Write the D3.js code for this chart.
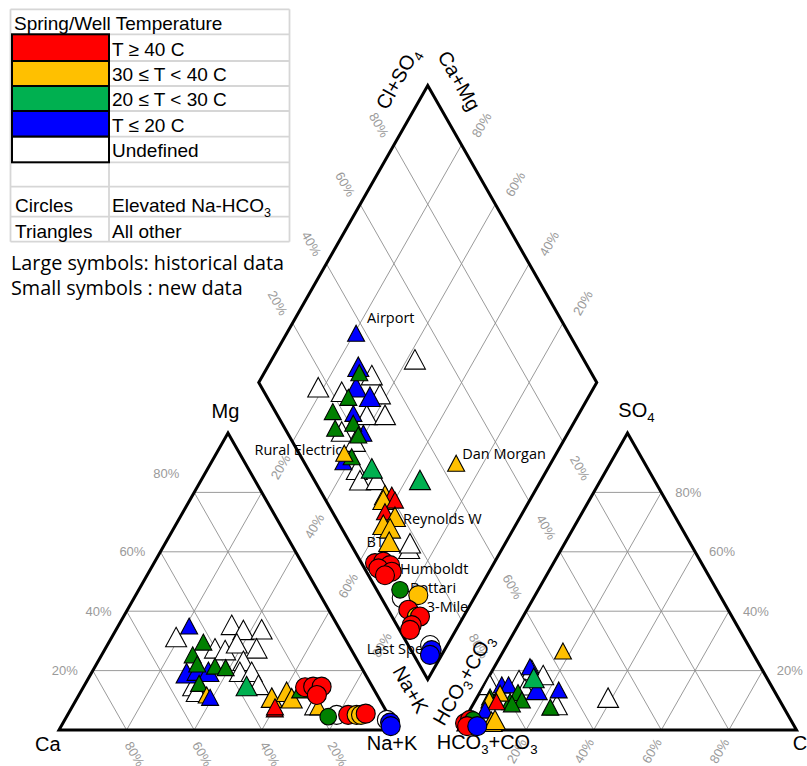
<!DOCTYPE html>
<html>
<head>
<meta charset="utf-8">
<script src="https://cdn.jsdelivr.net/npm/d3@7"></script>
<style>
  body { margin: 0; background: #fff; }
  svg { display: block; }
</style>
</head>
<body>
<svg id="chart" width="807" height="766"></svg>
<script>
// ---------------- data ----------------
const tempKeys   = ["r", "o", "g", "b", "w"];
const tempLabels = ["T \u2265 40 C", "30 \u2264 T < 40 C", "20 \u2264 T < 30 C", "T \u2264 20 C", "Undefined"];
const gridPct    = [20, 40, 60, 80];

// symbol kind: T = historical triangle, t = new triangle, C = historical circle, c = new circle
// cation triangle rows: [Mg %, Na+K %, temperature class, kind]
const cationData = [
  [31.3, 19.0, "w", "T"], [35.4, 33.4, "w", "T"], [33.7, 37.7, "w", "T"], [33.9, 43.0, "w", "T"],
  [27.5, 32.4, "w", "T"], [26.9, 35.7, "w", "T"], [29.2, 38.0, "w", "T"], [27.5, 44.7, "w", "T"],
  [23.3, 42.9, "w", "T"], [19.6, 43.7, "w", "T"], [19.6, 47.2, "w", "T"], [14.8, 32.3, "w", "T"],
  [12.9, 34.3, "w", "T"], [15.2, 51.4, "w", "T"],
  [19.1, 28.2, "b", "T"], [20.0, 31.0, "b", "T"], [19.6, 34.4, "b", "T"], [35.0, 21.0, "b", "t"],
  [29.6, 27.9, "g", "t"], [25.3, 26.9, "g", "t"], [22.2, 29.8, "g", "t"], [21.5, 35.4, "g", "t"],
  [21.0, 38.8, "g", "t"], [15.7, 33.6, "g", "t"], [14.8, 48.1, "g", "T"],
  [11.8, 37.8, "o", "t"], [11.0, 39.2, "b", "t"],
  [10.9, 57.5, "o", "T"], [12.9, 60.9, "o", "T"], [10.7, 63.5, "o", "T"],
  [7.1, 60.3, "r", "t"], [7.8, 60.0, "r", "t"], [13.5, 64.6, "g", "t"],
  [7.8, 71.3, "w", "t"], [7.8, 72.8, "o", "t"],
  [14.4, 65.6, "r", "C"], [14.6, 67.9, "r", "C"], [14.6, 70.4, "r", "C"], [11.8, 70.4, "r", "C"],
  [5.1, 79.6, "w", "C"], [4.5, 77.4, "g", "c"], [5.1, 83.0, "r", "C"], [5.1, 85.5, "o", "C"],
  [5.1, 86.8, "o", "C"], [5.5, 88.0, "r", "C"],
  [3.4, 95.3, "w", "C"], [2.5, 96.7, "b", "C"], [1.3, 97.5, "b", "C"]
];

// anion triangle rows: [SO4 %, Cl %, temperature class, kind]
const anionData = [
  [10.9, 38.8, "w", "T"], [20.2, 11.6, "w", "T"], [18.5, 15.8, "w", "T"], [16.8, 9.5, "w", "T"],
  [15.2, 1.7, "w", "T"], [14.5, 12.4, "w", "t"], [8.4, 24.9, "w", "T"],
  [21.3, 10.5, "b", "t"], [13.5, 22.9, "b", "t"], [13.5, 16.4, "b", "T"],
  [17.5, 13.5, "g", "T"], [15.2, 5.2, "b", "t"], [15.2, 7.2, "b", "t"],
  [12.6, 11.3, "g", "t"], [10.1, 13.7, "g", "t"], [9.5, 10.5, "g", "t"], [8.8, 11.4, "g", "t"],
  [7.7, 23.3, "g", "t"], [11.1, 3.8, "g", "t"],
  [26.6, 17.6, "o", "t"], [12.4, 6.1, "o", "t"], [10.1, 4.1, "o", "t"], [9.5, 6.5, "r", "t"],
  [6.7, 4.5, "b", "t"], [2.8, 8.4, "o", "T"], [3.4, 9.1, "o", "T"],
  [2.3, 0.8, "r", "C"], [3.4, 1.7, "r", "C"], [3.4, 2.6, "g", "c"], [1.3, 1.9, "r", "C"], [1.3, 4.9, "b", "C"]
];

// diamond rows: [Na+K %, Cl+SO4 %, temperature class, kind]
const diamondData = [
  [42.3, 50.1, "w", "T"], [18.4, 16.8, "w", "T"], [32.2, 34.7, "w", "T"], [26.1, 23.0, "w", "T"],
  [37.8, 33.9, "w", "T"], [37.4, 26.5, "w", "T"], [42.8, 31.9, "w", "T"], [32.8, 16.3, "w", "T"],
  [38.4, 18.5, "w", "T"], [43.7, 14.3, "w", "T"], [46.4, 13.5, "w", "T"], [51.3, 18.5, "w", "T"],
  [72.5, 16.5, "w", "T"], [71.8, 17.7, "w", "T"],
  [20.5, 37.1, "b", "t"], [26.8, 32.1, "b", "T"], [29.6, 28.0, "b", "T"], [35.3, 30.5, "b", "T"],
  [33.2, 22.8, "b", "t"], [39.5, 22.4, "b", "t"], [38.4, 11.7, "b", "t"],
  [28.1, 31.4, "g", "t"], [29.0, 24.0, "g", "t"], [26.8, 17.0, "g", "t"], [34.8, 21.1, "g", "t"],
  [30.3, 14.9, "g", "t"], [38.3, 20.6, "g", "t"], [40.0, 15.0, "g", "t"],
  [47.9, 19.0, "g", "T"], [64.1, 31.3, "g", "T"],
  [37.2, 13.4, "o", "t"], [72.0, 44.8, "o", "t"],
  [56.3, 18.4, "o", "T"], [58.3, 20.4, "r", "t"], [56.6, 17.1, "o", "T"], [60.1, 20.5, "r", "t"],
  [59.1, 15.6, "r", "t"], [62.9, 17.7, "o", "T"], [60.8, 12.9, "o", "T"], [63.4, 14.3, "o", "T"],
  [65.4, 11.8, "o", "T"],
  [64.8, 4.0, "r", "C"], [67.0, 6.7, "r", "C"], [69.6, 8.1, "r", "C"], [66.7, 4.1, "r", "C"],
  [71.2, 7.5, "r", "C"], [69.8, 4.9, "r", "C"],
  [78.6, 6.0, "w", "C"], [76.7, 6.9, "g", "c"], [83.0, 11.4, "o", "C"], [82.5, 6.0, "r", "C"],
  [86.2, 7.3, "o", "C"], [87.1, 8.3, "r", "C"], [86.1, 4.4, "r", "C"], [86.4, 3.1, "r", "C"],
  [94.9, 6.5, "w", "C"], [96.2, 6.1, "b", "C"], [96.5, 4.8, "b", "C"]
];

// named wells in the diamond: [name, Na+K %, Cl+SO4 %]
const siteLabels = [
  ["Airport", 20.5, 37.1], ["Rural Electric", 37.2, 13.4], ["Dan Morgan", 72.0, 44.8],
  ["Reynolds W", 62.9, 17.7], ["BTI", 65.4, 11.8], ["Humboldt", 71.2, 7.5],
  ["Bottari", 76.7, 6.9], ["3-Mile", 86.2, 7.3], ["Last Spe", 96.2, 6.1]
];

// ---------------- styling / layout ----------------
const fills = { r: "#ff0000", o: "#ffc000", g: "#00b050", b: "#0000ff", w: "#ffffff" };
const newGreen = "#008000";
const sansArial = "'Liberation Sans', Arial, sans-serif";
const sansText = "'Open Sans', Lato, sans-serif";

const W = 338, H = 297, baseY = 730;
const cationX0 = 59, anionX0 = 458.5;
const B = { x: (cationX0 + W + anionX0) / 2, y: 679.5 };   // bottom vertex of diamond

const xs = d3.scaleLinear().domain([0, 100]).range([0, W]);
const ys = d3.scaleLinear().domain([0, 100]).range([0, H]);

const cationPos = (mg, na) => [cationX0 + xs(na) + xs(mg) / 2, baseY - ys(mg)];
const anionPos  = (so4, cl) => [anionX0 + xs(cl) + xs(so4) / 2, baseY - ys(so4)];
const diamondPos = (na, cs) => {
  const n = 100 - na;
  return [B.x + (xs(cs) - xs(n)) / 2, B.y - ys(n) - ys(cs)];
};

const svg = d3.select("#chart");
const line = d3.line();

// ---------------- grids ----------------
const gGrid = svg.append("g").attr("fill", "none").attr("stroke", "#8f8f8f").attr("stroke-width", 0.9);
const gridSegs = [];
gridPct.forEach(t => {
  gridSegs.push([cationPos(t, 0), cationPos(t, 100 - t)]);
  gridSegs.push([cationPos(0, t), cationPos(100 - t, t)]);
  gridSegs.push([cationPos(0, 100 - t), cationPos(100 - t, 0)]);
  gridSegs.push([anionPos(t, 0), anionPos(t, 100 - t)]);
  gridSegs.push([anionPos(0, t), anionPos(100 - t, t)]);
  gridSegs.push([anionPos(0, 100 - t), anionPos(100 - t, 0)]);
  gridSegs.push([diamondPos(100, t), diamondPos(0, t)]);
  gridSegs.push([diamondPos(t, 0), diamondPos(t, 100)]);
});
gGrid.selectAll("path").data(gridSegs).join("path").attr("d", d => line(d));

// ---------------- outlines ----------------
const gFrame = svg.append("g").attr("fill", "none").attr("stroke", "#000")
  .attr("stroke-width", 3).attr("stroke-linejoin", "miter");
const frames = [
  [cationPos(0, 0), cationPos(0, 100), cationPos(100, 0)],
  [anionPos(0, 0), anionPos(0, 100), anionPos(100, 0)],
  [diamondPos(100, 0), diamondPos(0, 0), diamondPos(0, 100), diamondPos(100, 100)]
];
gFrame.selectAll("path").data(frames).join("path").attr("d", d => line(d) + "Z");

// ---------------- tick labels ----------------
const gTicks = svg.append("g").attr("font-family", sansArial).attr("font-size", 13)
  .attr("fill", "#9a9a9a").attr("text-anchor", "middle").attr("dominant-baseline", "central");
function tick(x, y, rot, txt) {
  gTicks.append("text").attr("transform", `translate(${x},${y}) rotate(${rot})`).text(txt);
}
gridPct.forEach(t => {
  const lbl = t + "%";
  // Mg (left side of cation triangle)
  let p = cationPos(t, 0);
  tick(p[0] - 28, p[1] + (t === 80 ? -19 : 0), 0, lbl);
  // Ca (base of cation triangle)
  p = cationPos(0, 100 - t);
  tick(p[0] + 8, 754, 60, lbl);
  // Cl (base of anion triangle)
  p = anionPos(0, t);
  tick(p[0] - 9.5, 751, -60, lbl);
  // SO4 (right side of anion triangle)
  p = anionPos(t, 100 - t);
  tick(p[0] + 27, p[1], 0, lbl);
  // Cl+SO4 (upper-left diamond edge)
  p = diamondPos(0, t);
  tick(p[0] - 15, p[1] - 20, 60, lbl);
  // Ca+Mg (upper-right diamond edge)
  p = diamondPos(100 - t, 100);
  tick(p[0] + 20, p[1] - 20, -60, lbl);
  // Na+K (lower-left diamond edge)
  p = diamondPos(t, 0);
  tick(p[0] - 12, p[1] + 25, -60, lbl);
  // HCO3+CO3 (lower-right diamond edge)
  p = diamondPos(100, 100 - t);
  tick(p[0] + 17, p[1] + 26, 60, lbl);
});

// ---------------- axis titles ----------------
const gTitles = svg.append("g").attr("font-family", sansArial).attr("font-size", 20).attr("fill", "#000");
function richText(parent, x, y, rot, parts, anchor) {
  const t = parent.append("text").attr("transform", `translate(${x},${y}) rotate(${rot})`)
    .attr("text-anchor", anchor || "start");
  let shifted = false;
  parts.forEach(([s, sub]) => {
    const ts = t.append("tspan").text(s);
    if (sub && !shifted) { ts.attr("font-size", "0.66em").attr("dy", 5); shifted = true; }
    else if (!sub && shifted) { ts.attr("dy", -5); shifted = false; }
    else if (sub) ts.attr("font-size", "0.66em");
  });
  return t;
}
const angle = Math.atan2(H, W / 2) * 180 / Math.PI;   // slope of the triangle sides
richText(gTitles, 35, 750.5, 0, [["Ca"]]);
richText(gTitles, 366.7, 750, 0, [["Na+K"]]);
richText(gTitles, 225.5, 418, 0, [["Mg"]], "middle");
richText(gTitles, 436.7, 749, 0, [["HCO"], ["3", true], ["+CO"], ["3", true]]);
richText(gTitles, 792.7, 750, 0, [["Cl"]]);
richText(gTitles, 618.3, 416.7, 0, [["SO"], ["4", true]]);
richText(gTitles, 387, 111, -angle, [["Cl+SO"], ["4", true]]);
richText(gTitles, 437, 56, angle, [["Ca+Mg"]]);
richText(gTitles, 392, 671, angle, [["Na+K"]]);
richText(gTitles, 444, 727, -angle, [["HCO"], ["3", true], ["+CO"], ["3", true]]);

// ---------------- well labels ----------------
const labelPlacement = {
  "Airport": [11, -10, "start"], "Rural Electric": [-2, 1.7, "end"], "Dan Morgan": [6, -4, "start"],
  "Reynolds W": [8, 7.6, "start"], "BTI": [-22.6, 5, "start"], "Humboldt": [8.3, 2.3, "start"],
  "Bottari": [10, 2.7, "start"], "3-Mile": [10, -4.4, "start"], "Last Spe": [-65, 4.3, "start"]
};
const gLabels = svg.append("g").attr("font-family", sansText).attr("font-size", 14.5).attr("fill", "#000");
gLabels.selectAll("text").data(siteLabels).join("text")
  .attr("x", d => diamondPos(d[1], d[2])[0] + labelPlacement[d[0]][0])
  .attr("y", d => diamondPos(d[1], d[2])[1] + labelPlacement[d[0]][1])
  .attr("text-anchor", d => labelPlacement[d[0]][2])
  .text(d => d[0]);

// ---------------- markers ----------------
function markerFill(cls, big) {
  return (cls === "g" && !big) ? newGreen : fills[cls];
}
function drawMarkers(rows, place) {
  const g = svg.append("g");
  g.selectAll("g").data(rows).join("g")
    .attr("transform", d => { const [x, y] = place(d); return `translate(${x},${y})`; })
    .each(function (d) {
      const sel = d3.select(this);
      const kind = d[3];
      const big = kind === kind.toUpperCase();
      const fill = markerFill(d[2], big);
      if (kind.toLowerCase() === "t") {
        const w = big ? 21 : 17, h = big ? 19.5 : 16;
        sel.append("path")
          .attr("d", `M0,${-h / 2}L${w / 2},${h / 2}L${-w / 2},${h / 2}Z`)
          .attr("fill", fill).attr("stroke", "#000").attr("stroke-width", 1.1)
          .attr("stroke-linejoin", "miter");
      } else {
        sel.append("circle").attr("r", big ? 9.5 : 8.3)
          .attr("fill", fill).attr("stroke", "#000").attr("stroke-width", 1.1);
      }
    });
}
drawMarkers(diamondData, d => diamondPos(d[0], d[1]));
drawMarkers(cationData, d => cationPos(d[0], d[1]));
drawMarkers(anionData, d => anionPos(d[0], d[1]));

// ---------------- legend table ----------------
const rowEdges = [9.3, 34.3, 61, 86, 111, 136.7, 162.3, 186.7, 216.7, 241.7];
const tblL = 10.5, tblR = 289.5, colX = 109;
const gLeg = svg.append("g");
const gLines = gLeg.append("g").attr("stroke", "#d6d6d6").attr("stroke-width", 1.8).attr("fill", "none");
rowEdges.forEach(y => gLines.append("line").attr("x1", tblL).attr("x2", tblR).attr("y1", y).attr("y2", y));
gLines.append("line").attr("x1", tblL).attr("x2", tblL).attr("y1", rowEdges[0]).attr("y2", rowEdges[9]);
gLines.append("line").attr("x1", tblR).attr("x2", tblR).attr("y1", rowEdges[0]).attr("y2", rowEdges[9]);
gLines.append("line").attr("x1", colX).attr("x2", colX).attr("y1", rowEdges[1]).attr("y2", rowEdges[9]);

gLeg.selectAll("rect.sw").data(tempKeys).join("rect").attr("class", "sw")
  .attr("x", 12).attr("width", colX - 12)
  .attr("y", (d, i) => rowEdges[i + 1]).attr("height", (d, i) => rowEdges[i + 2] - rowEdges[i + 1])
  .attr("fill", d => fills[d]).attr("stroke", "#000").attr("stroke-width", 2);

const gLegText = gLeg.append("g").attr("font-family", sansArial).attr("font-size", 19).attr("fill", "#000");
gLegText.append("text").attr("x", 14).attr("y", rowEdges[1] - 4.5).text("Spring/Well Temperature");
gLegText.selectAll("text.tl").data(tempLabels).join("text").attr("class", "tl")
  .attr("x", 112).attr("y", (d, i) => rowEdges[i + 2] - 5).text(d => d);
gLegText.append("text").attr("x", 15).attr("y", rowEdges[8] - 5).text("Circles");
richText(gLegText, 112, rowEdges[8] - 5, 0, [["Elevated Na-HCO"], ["3", true]]);
gLegText.append("text").attr("x", 15).attr("y", rowEdges[9] - 3.5).text("Triangles");
gLegText.append("text").attr("x", 112).attr("y", rowEdges[9] - 3.5).text("All other");

const gNote = svg.append("g").attr("font-family", sansText).attr("font-size", 19.8).attr("fill", "#000");
gNote.append("text").attr("x", 11).attr("y", 270).text("Large symbols: historical data");
gNote.append("text").attr("x", 11).attr("y", 295).text("Small symbols : new data");
</script>
</body>
</html>
